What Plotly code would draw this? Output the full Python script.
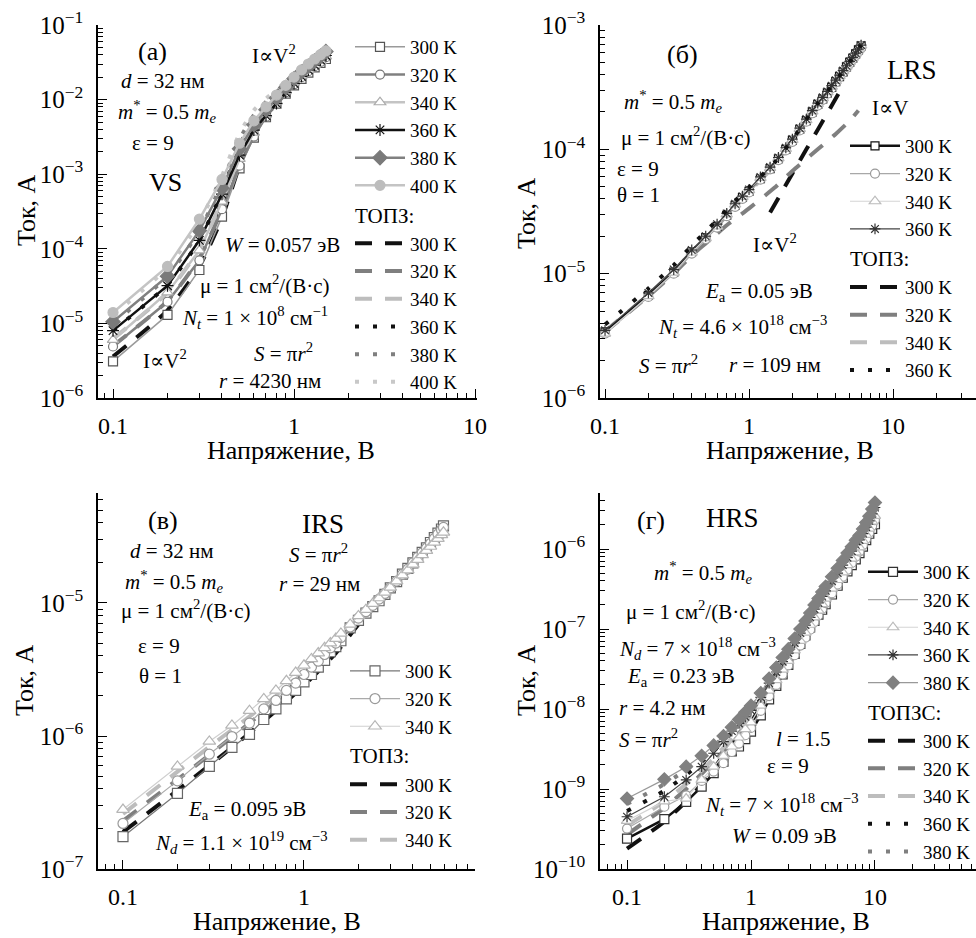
import plotly.graph_objects as go

W, H = 976, 938
FONT = "Liberation Serif, DejaVu Serif, serif"

# ---------------- data ----------------
# (а) VS
Va = [0.1, 0.2, 0.3, 0.4, 0.5, 0.6, 0.7, 0.8, 0.9, 1.0, 1.1, 1.2, 1.3, 1.4, 1.5]
Ia_300 = [3.1e-6, 1.3e-5, 5.2e-5, 2.7e-4, 1.2e-3, 3.1e-3, 5.8e-3, 8.8e-3, 1.2e-2, 1.55e-2, 1.9e-2, 2.3e-2, 2.7e-2, 3.1e-2, 3.5e-2]
Ia_320 = [4.9e-6, 1.95e-5, 7.0e-5, 3.4e-4, 1.3e-3, 3.2e-3, 5.9e-3, 9.0e-3, 1.25e-2, 1.6e-2, 2.0e-2, 2.4e-2, 2.8e-2, 3.2e-2, 3.7e-2]
Ia_340 = [6.0e-6, 2.6e-5, 9.5e-5, 4.3e-4, 1.6e-3, 3.6e-3, 6.3e-3, 9.4e-3, 1.3e-2, 1.7e-2, 2.1e-2, 2.5e-2, 2.9e-2, 3.3e-2, 3.8e-2]
Ia_360 = [8.0e-6, 3.2e-5, 1.3e-4, 5.4e-4, 1.8e-3, 3.9e-3, 6.1e-3, 8.9e-3, 1.25e-2, 1.65e-2, 2.05e-2, 2.5e-2, 2.9e-2, 3.4e-2, 3.9e-2]
Ia_380 = [1.05e-5, 4.3e-5, 1.75e-4, 6.5e-4, 2.2e-3, 4.6e-3, 7.3e-3, 1.05e-2, 1.45e-2, 1.9e-2, 2.35e-2, 2.8e-2, 3.3e-2, 3.8e-2, 4.4e-2]
Ia_400 = [1.4e-5, 5.8e-5, 2.5e-4, 8.5e-4, 2.6e-3, 5.2e-3, 8.0e-3, 1.15e-2, 1.55e-2, 2.0e-2, 2.5e-2, 3.0e-2, 3.5e-2, 4.0e-2, 4.5e-2]
Ma_300 = [3.6e-6, 1.5e-5, 5.8e-5, 2.6e-4, 1.3e-3, 3.6e-3, 6.3e-3, 9.2e-3, 1.25e-2, 1.6e-2, 1.95e-2, 2.3e-2, 2.7e-2, 3.1e-2, 3.5e-2]
Ma_320 = [5.0e-6, 2.0e-5, 7.5e-5, 3.4e-4, 1.6e-3, 4.1e-3, 6.9e-3, 1.0e-2, 1.35e-2, 1.7e-2, 2.1e-2, 2.5e-2, 2.9e-2, 3.3e-2, 3.7e-2]
Ma_340 = [6.2e-6, 2.6e-5, 1.0e-4, 4.4e-4, 1.9e-3, 4.6e-3, 7.5e-3, 1.07e-2, 1.45e-2, 1.8e-2, 2.2e-2, 2.6e-2, 3.0e-2, 3.4e-2, 3.8e-2]
Ma_360 = [8.0e-6, 3.3e-5, 1.3e-4, 5.8e-4, 2.4e-3, 5.4e-3, 8.5e-3, 1.15e-2, 1.55e-2, 1.95e-2, 2.35e-2, 2.8e-2, 3.2e-2, 3.6e-2, 4.0e-2]
Ma_380 = [1.0e-5, 4.3e-5, 1.75e-4, 7.5e-4, 2.9e-3, 6.2e-3, 9.3e-3, 1.25e-2, 1.65e-2, 2.05e-2, 2.5e-2, 2.95e-2, 3.4e-2, 3.85e-2, 4.3e-2]
Ma_400 = [1.3e-5, 5.6e-5, 2.3e-4, 9.5e-4, 3.5e-3, 7.2e-3, 1.03e-2, 1.35e-2, 1.75e-2, 2.15e-2, 2.6e-2, 3.05e-2, 3.5e-2, 4.0e-2, 4.5e-2]

# (б) LRS
Vb = [0.1, 0.2, 0.3, 0.4, 0.5, 0.6, 0.7, 0.8, 0.9, 1.0, 1.2, 1.4, 1.6, 1.8, 2.0,
      2.25, 2.5, 2.75, 3.0, 3.25, 3.5, 3.75, 4.0, 4.25, 4.5, 4.75, 5.0, 5.25, 5.5, 5.75, 6.0]
Ib_300 = [3.4e-6, 6.7e-6, 1.03e-5, 1.5e-5, 1.95e-5, 2.4e-5, 2.95e-5, 3.55e-5, 4.1e-5, 4.6e-5, 5.8e-5, 7.0e-5, 8.4e-5, 1.0e-4, 1.18e-4,
          1.45e-4, 1.7e-4, 2.0e-4, 2.3e-4, 2.55e-4, 2.85e-4, 3.15e-4, 3.5e-4, 3.85e-4, 4.2e-4, 4.6e-4, 5.0e-4, 5.4e-4, 5.85e-4, 6.3e-4, 6.8e-4]
Ib_320 = [3.3e-6, 6.5e-6, 1.0e-5, 1.45e-5, 1.9e-5, 2.35e-5, 2.9e-5, 3.45e-5, 4.0e-5, 4.5e-5, 5.7e-5, 6.9e-5, 8.2e-5, 9.8e-5, 1.15e-4,
          1.42e-4, 1.67e-4, 1.95e-4, 2.25e-4, 2.5e-4, 2.8e-4, 3.1e-4, 3.45e-4, 3.8e-4, 4.15e-4, 4.5e-4, 4.9e-4, 5.3e-4, 5.7e-4, 6.1e-4, 6.5e-4]
Ib_340 = [3.3e-6, 6.6e-6, 1.02e-5, 1.48e-5, 1.93e-5, 2.4e-5, 3.0e-5, 3.6e-5, 4.15e-5, 4.7e-5, 5.9e-5, 7.1e-5, 8.5e-5, 1.01e-4, 1.19e-4,
          1.46e-4, 1.72e-4, 2.02e-4, 2.32e-4, 2.58e-4, 2.88e-4, 3.2e-4, 3.55e-4, 3.9e-4, 4.25e-4, 4.65e-4, 5.05e-4, 5.45e-4, 5.9e-4, 6.35e-4, 6.85e-4]
Ib_360 = [3.5e-6, 7.0e-6, 1.08e-5, 1.55e-5, 2.0e-5, 2.5e-5, 3.05e-5, 3.65e-5, 4.2e-5, 4.75e-5, 6.0e-5, 7.2e-5, 8.6e-5, 1.03e-4, 1.21e-4,
          1.48e-4, 1.75e-4, 2.05e-4, 2.35e-4, 2.62e-4, 2.92e-4, 3.25e-4, 3.6e-4, 3.95e-4, 4.3e-4, 4.7e-4, 5.1e-4, 5.5e-4, 5.95e-4, 6.4e-4, 6.9e-4]
Vb_m = [0.1, 0.2, 0.3, 0.4, 0.5, 0.6, 0.7, 0.8, 0.9, 1.0, 1.5, 2.0, 3.0, 4.0, 5.0, 6.0]
Mb_360 = [3.9e-6, 7.6e-6, 1.17e-5, 1.68e-5, 2.18e-5, 2.7e-5, 3.25e-5, 3.85e-5, 4.4e-5, 4.95e-5, 7.8e-5, 1.2e-4, 2.35e-4, 3.55e-4, 5.05e-4, 6.9e-4]
Mb_340 = [3.45e-6, 6.8e-6, 1.05e-5, 1.5e-5, 1.95e-5, 2.4e-5, 2.95e-5, 3.5e-5, 4.05e-5, 4.55e-5, 7.4e-5, 1.16e-4, 2.28e-4, 3.48e-4, 4.95e-4, 6.7e-4]
Vb_m320 = [0.1, 0.2, 0.3, 0.4, 0.5, 0.6, 0.7, 0.8, 0.9, 1.0, 1.5, 2.0, 3.0, 4.0, 5.0, 5.75]
Mb_320 = [3.4e-6, 6.6e-6, 1.0e-5, 1.4e-5, 1.75e-5, 2.1e-5, 2.45e-5, 2.75e-5, 3.05e-5, 3.35e-5, 4.9e-5, 6.7e-5, 1.0e-4, 1.33e-4, 1.7e-4, 2.05e-4]
Vb_m300 = [1.4, 1.7, 2.0, 2.5, 3.0, 3.5, 4.0, 4.4]
Mb_300 = [3.1e-5, 4.6e-5, 6.4e-5, 1.0e-4, 1.44e-4, 1.96e-4, 2.56e-4, 3.1e-4]

# (в) IRS
Vc = [0.1, 0.2, 0.3, 0.4, 0.5, 0.6, 0.7, 0.8, 0.9, 1.0, 1.1, 1.2, 1.3, 1.4, 1.5, 1.6, 1.8, 2.0,
      2.2, 2.4, 2.6, 2.8, 3.0, 3.25, 3.5, 3.75, 4.0, 4.25, 4.5, 4.75, 5.0, 5.25, 5.5, 5.75, 5.9]
Ic_300 = [1.75e-7, 3.7e-7, 5.9e-7, 8.2e-7, 1.03e-6, 1.33e-6, 1.6e-6, 1.9e-6, 2.2e-6, 2.55e-6, 2.9e-6, 3.3e-6, 3.7e-6, 4.3e-6, 4.7e-6, 5.2e-6, 6.5e-6, 7.4e-6,
          8.4e-6, 9.4e-6, 1.04e-5, 1.16e-5, 1.3e-5, 1.45e-5, 1.65e-5, 1.82e-5, 2.0e-5, 2.2e-5, 2.4e-5, 2.6e-5, 2.85e-5, 3.1e-5, 3.35e-5, 3.6e-5, 3.8e-5]
Ic_320 = [2.2e-7, 4.6e-7, 7.3e-7, 9.9e-7, 1.25e-6, 1.6e-6, 1.85e-6, 2.2e-6, 2.5e-6, 2.9e-6, 3.3e-6, 3.65e-6, 4.1e-6, 4.6e-6, 5.0e-6, 5.5e-6, 6.6e-6, 7.7e-6,
          8.6e-6, 9.6e-6, 1.07e-5, 1.18e-5, 1.3e-5, 1.46e-5, 1.64e-5, 1.8e-5, 2.0e-5, 2.2e-5, 2.38e-5, 2.58e-5, 2.8e-5, 3.05e-5, 3.3e-5, 3.55e-5, 3.7e-5]
Ic_340 = [2.8e-7, 5.9e-7, 9.1e-7, 1.2e-6, 1.55e-6, 1.9e-6, 2.2e-6, 2.6e-6, 3.0e-6, 3.4e-6, 3.8e-6, 4.2e-6, 4.6e-6, 5.0e-6, 5.4e-6, 5.9e-6, 6.9e-6, 8.0e-6,
          8.9e-6, 9.9e-6, 1.09e-5, 1.2e-5, 1.31e-5, 1.46e-5, 1.62e-5, 1.77e-5, 1.95e-5, 2.12e-5, 2.3e-5, 2.48e-5, 2.66e-5, 2.86e-5, 3.05e-5, 3.25e-5, 3.4e-5]
Vc_m = [0.1, 0.2, 0.3, 0.5, 0.7, 1.0, 1.5, 2.0, 3.0, 4.0, 5.0, 5.9]
Mc_300 = [1.9e-7, 3.9e-7, 6.0e-7, 1.05e-6, 1.55e-6, 2.4e-6, 4.2e-6, 6.9e-6, 1.25e-5, 1.95e-5, 2.8e-5, 3.8e-5]
Mc_320 = [2.3e-7, 4.7e-7, 7.2e-7, 1.25e-6, 1.8e-6, 2.7e-6, 4.6e-6, 7.3e-6, 1.3e-5, 1.97e-5, 2.8e-5, 3.75e-5]
Mc_340 = [2.6e-7, 5.4e-7, 8.3e-7, 1.4e-6, 2.0e-6, 3.0e-6, 5.0e-6, 7.8e-6, 1.35e-5, 2.0e-5, 2.8e-5, 3.7e-5]

# (г) HRS
Vd = [0.1, 0.2, 0.3, 0.4, 0.5, 0.6, 0.7, 0.8, 0.9, 1.0, 1.2, 1.4, 1.6, 1.8, 2.0,
      2.25, 2.5, 2.75, 3.0, 3.25, 3.5, 3.75, 4.0, 4.5, 5.0, 5.5, 6.0, 6.5, 7.0, 7.5, 8.0, 8.5, 9.0, 9.5, 10.0]
Id_300 = [2.4e-10, 4.2e-10, 6.9e-10, 1.07e-9, 1.58e-9, 2.2e-9, 2.95e-9, 3.4e-9, 4.2e-9, 5.2e-9, 8.3e-9, 1.32e-8, 1.95e-8, 2.7e-8, 3.55e-8,
          4.9e-8, 6.5e-8, 8.3e-8, 1.05e-7, 1.26e-7, 1.51e-7, 1.74e-7, 2.04e-7, 2.7e-7, 3.47e-7, 4.37e-7, 5.25e-7, 6.3e-7, 7.4e-7, 8.9e-7, 1.07e-6, 1.29e-6, 1.55e-6, 1.78e-6, 2.04e-6]
Id_320 = [3.2e-10, 6.0e-10, 8.3e-10, 1.26e-9, 1.65e-9, 2.1e-9, 2.9e-9, 3.7e-9, 4.7e-9, 5.8e-9, 9.5e-9, 1.45e-8, 2.0e-8, 2.7e-8, 3.5e-8,
          4.7e-8, 6.2e-8, 7.8e-8, 9.8e-8, 1.22e-7, 1.48e-7, 1.78e-7, 2.1e-7, 2.8e-7, 3.6e-7, 4.5e-7, 5.5e-7, 6.7e-7, 8.0e-7, 9.3e-7, 1.12e-6, 1.34e-6, 1.6e-6, 1.95e-6, 2.3e-6]
Id_340 = [4.0e-10, 7.0e-10, 7.6e-10, 1.3e-9, 1.9e-9, 2.6e-9, 3.4e-9, 4.4e-9, 5.6e-9, 6.8e-9, 1.1e-8, 1.7e-8, 2.3e-8, 3.1e-8, 4.0e-8,
          5.4e-8, 7.1e-8, 9.0e-8, 1.13e-7, 1.4e-7, 1.7e-7, 2.05e-7, 2.4e-7, 3.2e-7, 4.1e-7, 5.1e-7, 6.3e-7, 7.6e-7, 9.1e-7, 1.05e-6, 1.26e-6, 1.5e-6, 1.8e-6, 2.2e-6, 2.6e-6]
Id_360 = [4.5e-10, 8.0e-10, 1.3e-9, 1.9e-9, 2.8e-9, 3.9e-9, 5.3e-9, 6.6e-9, 8.0e-9, 9.6e-9, 1.4e-8, 2.1e-8, 2.9e-8, 3.9e-8, 5.0e-8,
          6.7e-8, 8.9e-8, 1.12e-7, 1.4e-7, 1.77e-7, 2.12e-7, 2.55e-7, 3.0e-7, 3.95e-7, 5.0e-7, 6.3e-7, 7.8e-7, 9.4e-7, 1.13e-6, 1.3e-6, 1.56e-6, 1.88e-6, 2.25e-6, 2.75e-6, 3.3e-6]
Id_380 = [7.6e-10, 1.32e-9, 1.9e-9, 2.6e-9, 3.5e-9, 4.6e-9, 5.9e-9, 7.4e-9, 9.1e-9, 1.1e-8, 1.58e-8, 2.4e-8, 3.3e-8, 4.4e-8, 5.6e-8,
          7.6e-8, 1.0e-7, 1.26e-7, 1.58e-7, 2.0e-7, 2.4e-7, 2.9e-7, 3.4e-7, 4.5e-7, 5.75e-7, 7.2e-7, 8.9e-7, 1.07e-6, 1.29e-6, 1.48e-6, 1.78e-6, 2.14e-6, 2.57e-6, 3.16e-6, 3.8e-6]
Vd_m = [0.1, 0.2, 0.3, 0.4, 0.5, 0.6, 0.7, 0.8, 0.9, 1.0, 1.5, 2.0, 3.0, 4.0, 5.0, 6.0, 7.0, 8.0, 9.0, 10.0]
Md_300 = [1.8e-10, 3.9e-10, 7.0e-10, 1.15e-9, 1.8e-9, 2.6e-9, 3.6e-9, 4.7e-9, 5.8e-9, 7.0e-9, 1.7e-8, 3.6e-8, 1.05e-7, 2.1e-7, 3.6e-7, 5.4e-7, 7.6e-7, 1.08e-6, 1.55e-6, 2.1e-6]
Md_320 = [2.7e-10, 5.8e-10, 1.0e-9, 1.55e-9, 2.2e-9, 3.0e-9, 3.9e-9, 5.0e-9, 6.2e-9, 7.6e-9, 1.8e-8, 3.9e-8, 1.12e-7, 2.3e-7, 3.8e-7, 5.7e-7, 8.2e-7, 1.15e-6, 1.62e-6, 2.3e-6]
Md_340 = [3.5e-10, 7.0e-10, 1.15e-9, 1.7e-9, 2.4e-9, 3.3e-9, 4.3e-9, 5.5e-9, 6.8e-9, 8.3e-9, 2.0e-8, 4.3e-8, 1.2e-7, 2.5e-7, 4.2e-7, 6.4e-7, 9.2e-7, 1.3e-6, 1.8e-6, 2.6e-6]
Md_360 = [5.3e-10, 9.5e-10, 1.5e-9, 2.2e-9, 3.0e-9, 4.0e-9, 5.1e-9, 6.4e-9, 7.8e-9, 9.4e-9, 2.2e-8, 4.7e-8, 1.35e-7, 2.8e-7, 4.8e-7, 7.4e-7, 1.08e-6, 1.55e-6, 2.2e-6, 3.1e-6]
Md_380 = [6.5e-10, 1.15e-9, 1.75e-9, 2.5e-9, 3.4e-9, 4.5e-9, 5.7e-9, 7.1e-9, 8.6e-9, 1.03e-8, 2.4e-8, 5.2e-8, 1.5e-7, 3.1e-7, 5.4e-7, 8.4e-7, 1.24e-6, 1.75e-6, 2.5e-6, 3.5e-6]

X_TICKS = [0.1, 1, 10]
X_TICKTEXT = ["0.1", "1", "10"]

# ---------------- styling ----------------
DASH = "17px,13px"
DOT = "4px,14px"
BLACK = "#111111"
MID = "#7f7f7f"
LIGHT = "#bdbdbd"


def px_x(p):
    return p / W


def px_y(p):
    return 1 - p / H


fig = go.Figure()


def exp_trace(x, y, name, ax, lg, grp, rank, lcol, lw, sym, mfill, mline, msize=9):
    fig.add_trace(go.Scatter(
        x=x, y=y, name=name, mode="lines+markers",
        line=dict(color=lcol, width=lw),
        marker=dict(symbol=sym, size=msize, color=mfill,
                    line=dict(color=mline, width=1.2)),
        xaxis="x" + ax, yaxis="y" + ax, legend=lg, legendgroup=grp,
        legendrank=rank, showlegend=True))


def mod_trace(x, y, name, ax, lg, grp, rank, col, dash, title):
    fig.add_trace(go.Scatter(
        x=x, y=y, name=name, mode="lines",
        line=dict(color=col, width=4, dash=dash, shape="spline", smoothing=0.6),
        xaxis="x" + ax, yaxis="y" + ax, legend=lg, legendgroup=grp,
        legendrank=rank, legendgrouptitle=dict(text=title), showlegend=True))


# model curves are drawn first so that the measured markers lie on top
# (а)
A, LA = "", "legend"
mod_trace(Va, Ma_300, "300 K", A, LA, "am", 101, BLACK, DASH, "ТОПЗ:")
mod_trace(Va, Ma_320, "320 K", A, LA, "am", 102, MID, DASH, "ТОПЗ:")
mod_trace(Va, Ma_340, "340 K", A, LA, "am", 103, LIGHT, DASH, "ТОПЗ:")
mod_trace(Va, Ma_360, "360 K", A, LA, "am", 104, BLACK, DOT, "ТОПЗ:")
mod_trace(Va, Ma_380, "380 K", A, LA, "am", 105, MID, DOT, "ТОПЗ:")
mod_trace(Va, Ma_400, "400 K", A, LA, "am", 106, "#c8c8c8", DOT, "ТОПЗ:")
exp_trace(Va, Ia_300, "300 K", A, LA, "ae", 1, "#9a9a9a", 1.5, "square", "white", "#555")
exp_trace(Va, Ia_320, "320 K", A, LA, "ae", 2, "#808080", 2.5, "circle", "white", "#777")
exp_trace(Va, Ia_340, "340 K", A, LA, "ae", 3, "#c4c4c4", 2.5, "triangle-up", "white", "#aaa", 10)
exp_trace(Va, Ia_360, "360 K", A, LA, "ae", 4, BLACK, 2.5, "asterisk-open", BLACK, BLACK, 10)
exp_trace(Va, Ia_380, "380 K", A, LA, "ae", 5, "#808080", 2.5, "diamond", "#7a7a7a", "#7a7a7a", 11)
exp_trace(Va, Ia_400, "400 K", A, LA, "ae", 6, "#c4c4c4", 2.5, "circle", "#bdbdbd", "#bdbdbd", 10)

# (б)
B, LB = "2", "legend2"
mod_trace(Vb_m300, Mb_300, "300 K", B, LB, "bm", 101, BLACK, DASH, "ТОПЗ:")
mod_trace(Vb_m320, Mb_320, "320 K", B, LB, "bm", 102, MID, DASH, "ТОПЗ:")
mod_trace(Vb_m, Mb_340, "340 K", B, LB, "bm", 103, LIGHT, DASH, "ТОПЗ:")
exp_trace(Vb, Ib_300, "300 K", B, LB, "be", 1, BLACK, 2.5, "square", "white", BLACK, 8)
exp_trace(Vb, Ib_320, "320 K", B, LB, "be", 2, "#a8a8a8", 1.2, "circle", "white", "#999", 9)
exp_trace(Vb, Ib_340, "340 K", B, LB, "be", 3, "#d4d4d4", 1.2, "triangle-up", "white", "#bbb", 10)
exp_trace(Vb, Ib_360, "360 K", B, LB, "be", 4, "#444", 1.2, "asterisk-open", "#333", "#333", 9)
mod_trace(Vb_m, Mb_360, "360 K", B, LB, "bm", 104, BLACK, DOT, "ТОПЗ:")

# (в)
C, LC = "3", "legend3"
mod_trace(Vc_m, Mc_300, "300 K", C, LC, "cm", 101, BLACK, DASH, "ТОПЗ:")
mod_trace(Vc_m, Mc_320, "320 K", C, LC, "cm", 102, MID, DASH, "ТОПЗ:")
mod_trace(Vc_m, Mc_340, "340 K", C, LC, "cm", 103, LIGHT, DASH, "ТОПЗ:")
exp_trace(Vc, Ic_300, "300 K", C, LC, "ce", 1, "#777", 1.2, "square", "white", "#666", 10)
exp_trace(Vc, Ic_320, "320 K", C, LC, "ce", 2, "#aaa", 1.2, "circle", "white", "#999", 10)
exp_trace(Vc, Ic_340, "340 K", C, LC, "ce", 3, "#cfcfcf", 1.2, "triangle-up", "white", "#b5b5b5", 11)

# (г)
D, LD = "4", "legend4"
mod_trace(Vd_m, Md_300, "300 K", D, LD, "dm", 101, BLACK, DASH, "ТОПЗС:")
mod_trace(Vd_m, Md_320, "320 K", D, LD, "dm", 102, MID, DASH, "ТОПЗС:")
mod_trace(Vd_m, Md_340, "340 K", D, LD, "dm", 103, LIGHT, DASH, "ТОПЗС:")
mod_trace(Vd_m, Md_360, "360 K", D, LD, "dm", 104, BLACK, DOT, "ТОПЗС:")
mod_trace(Vd_m, Md_380, "380 K", D, LD, "dm", 105, MID, DOT, "ТОПЗС:")
exp_trace(Vd, Id_300, "300 K", D, LD, "de", 1, BLACK, 2.5, "square", "white", "#333", 9)
exp_trace(Vd, Id_320, "320 K", D, LD, "de", 2, "#aaa", 1.2, "circle", "white", "#999", 9)
exp_trace(Vd, Id_340, "340 K", D, LD, "de", 3, "#d4d4d4", 1.2, "triangle-up", "white", "#bbb", 10)
exp_trace(Vd, Id_360, "360 K", D, LD, "de", 4, "#444", 1.2, "asterisk-open", "#333", "#333", 9)
exp_trace(Vd, Id_380, "380 K", D, LD, "de", 5, "#999", 1.2, "diamond", "#808080", "#808080", 10)


# ---------------- axes ----------------
def minor_vals(lo, hi):
    return [m * 10.0 ** e for e in range(lo, hi) for m in range(2, 10)]


def sup_label(e):
    return "10<sup>−%d</sup>" % (-e)


def xaxis(l, r, rng, anchor):
    return dict(type="log", domain=[px_x(l), px_x(r)], range=rng, anchor=anchor,
                showline=True, linecolor="black", linewidth=1.5, mirror=False,
                ticks="inside", ticklen=9, tickwidth=1.3, tickcolor="black",
                tickvals=X_TICKS, ticktext=X_TICKTEXT, ticklabelstandoff=5,
                tickfont=dict(family=FONT, size=24, color="black"),
                showgrid=False, zeroline=False,
                minor=dict(ticks="inside", ticklen=5, tickwidth=1, tickcolor="black",
                           tickvals=minor_vals(-2, 2), showgrid=False))


def yaxis(top, bot, rng, anchor, exps):
    return dict(type="log", domain=[px_y(bot), px_y(top)], range=rng, anchor=anchor,
                showline=True, linecolor="black", linewidth=1.5, mirror=False,
                ticks="inside", ticklen=9, tickwidth=1.3, tickcolor="black",
                tickvals=[10.0 ** e for e in exps], ticktext=[sup_label(e) for e in exps],
                ticklabelstandoff=8,
                tickfont=dict(family=FONT, size=25, color="black"),
                showgrid=False, zeroline=False,
                minor=dict(ticks="inside", ticklen=5, tickwidth=1, tickcolor="black",
                           tickvals=minor_vals(-11, 0), showgrid=False))


def legend(left_px, top_px):
    return dict(x=px_x(left_px), y=px_y(top_px), xanchor="left", yanchor="top",
                bgcolor="rgba(0,0,0,0)", borderwidth=0, tracegroupgap=0,
                itemwidth=50, traceorder="grouped",
                font=dict(family=FONT, size=19, color="black"),
                grouptitlefont=dict(family=FONT, size=21, color="black"))


annotations = []


def txt(t, x, y, size=21, angle=0):
    annotations.append(dict(text=t, x=px_x(x), y=px_y(y), xref="paper", yref="paper",
                            xanchor="center", yanchor="middle", showarrow=False,
                            textangle=angle, font=dict(family=FONT, size=size, color="black")))


MSTAR = "<i>m</i><sup>*</sup> = 0.5 <i>m<sub>e</sub></i>"
MU = "μ = 1 см<sup>2</sup>/(В·с)"
SPR = "<i>S</i> = π<i>r</i><sup>2</sup>"
IV2 = "I∝V<sup>2</sup>"

# (а)
txt("(а)", 152, 52, 26)
txt("<i>d</i> = 32 нм", 163, 81)
txt(MSTAR, 167, 111)
txt("ε = 9", 153, 143)
txt("VS", 165, 183, 26)
txt(IV2, 274, 55, 21)
txt("<i>W</i> = 0.057 эВ", 282, 245)
txt(MU, 264, 285)
txt("<i>N<sub>t</sub></i> = 1 × 10<sup>8</sup> см<sup>−1</sup>", 255, 317)
txt(SPR, 283, 352)
txt("<i>r</i> = 4230 нм", 270, 381)
txt(IV2, 165, 359, 21)
# (б)
txt("(б)", 682, 54, 26)
txt("LRS", 912, 70, 27)
txt(MSTAR, 673, 102)
txt(MU, 685, 137)
txt("ε = 9", 638, 169)
txt("θ = 1", 638, 195)
txt("I∝V", 890, 108, 21)
txt(IV2, 775, 243, 21)
txt("<i>E</i><sub>a</sub> = 0.05 эВ", 759, 292)
txt("<i>N<sub>t</sub></i> = 4.6 × 10<sup>18</sup> см<sup>−3</sup>", 742, 326)
txt(SPR, 668, 364)
txt("<i>r</i> = 109 нм", 775, 365)
# (в)
txt("(в)", 163, 520, 26)
txt("IRS", 323, 524, 27)
txt("<i>d</i> = 32 нм", 172, 551)
txt(SPR, 318, 553)
txt(MSTAR, 174, 581)
txt("<i>r</i> = 29 нм", 319, 584)
txt(MU, 185, 609)
txt("ε = 9", 159, 646)
txt("θ = 1", 160, 676)
txt("<i>E</i><sub>a</sub> = 0.095 эВ", 247, 810)
txt("<i>N<sub>d</sub></i> = 1.1 × 10<sup>19</sup> см<sup>−3</sup>", 241, 842)
# (г)
txt("(г)", 651, 520, 26)
txt("HRS", 732, 518, 27)
txt(MSTAR, 703, 572)
txt(MU, 690, 610)
txt("<i>N<sub>d</sub></i> = 7 × 10<sup>18</sup> см<sup>−3</sup>", 697, 648)
txt("<i>E</i><sub>a</sub> = 0.23 эВ", 681, 677)
txt("<i>r</i> = 4.2 нм", 662, 708)
txt(SPR, 648, 738)
txt("<i>l</i> = 1.5", 803, 739)
txt("ε = 9", 788, 766)
txt("<i>N<sub>t</sub></i> = 7 × 10<sup>18</sup> см<sup>−3</sup>", 782, 804)
txt("<i>W</i> = 0.09 эВ", 784, 836)
# axis titles
for (x, y) in [(27, 210), (526, 213), (24, 680), (526, 680)]:
    txt("Ток, А", x, y, 26, -90)
for (x, y) in [(291, 450), (790, 450), (277, 921), (786, 921)]:
    txt("Напряжение, В", x, y, 26)

fig.update_layout(
    width=W, height=H,
    margin=dict(l=0, r=0, t=0, b=0, autoexpand=False),
    paper_bgcolor="white", plot_bgcolor="white",
    font=dict(family=FONT, color="black"),
    showlegend=True,
    xaxis=xaxis(98, 477, [-1.083, 1.011], "y"),
    yaxis=yaxis(25, 398, [-6, -1], "x", [-6, -5, -4, -3, -2, -1]),
    xaxis2=xaxis(600, 976, [-1.035, 1.576], "y2"),
    yaxis2=yaxis(25, 398, [-6, -3], "x2", [-6, -5, -4, -3]),
    xaxis3=xaxis(98, 475, [-1.138, 0.945], "y3"),
    yaxis3=yaxis(493, 869, [-7, -4.173], "x3", [-7, -6, -5]),
    xaxis4=xaxis(600, 976, [-1.218, 1.815], "y4"),
    yaxis4=yaxis(493, 869, [-10, -5.3], "x4", [-10, -9, -8, -7, -6]),
    legend=legend(350, 28),
    legend2=legend(845, 127),
    legend3=legend(345, 652),
    legend4=legend(863, 553),
    annotations=annotations,
)

fig.write_html("out.html")
